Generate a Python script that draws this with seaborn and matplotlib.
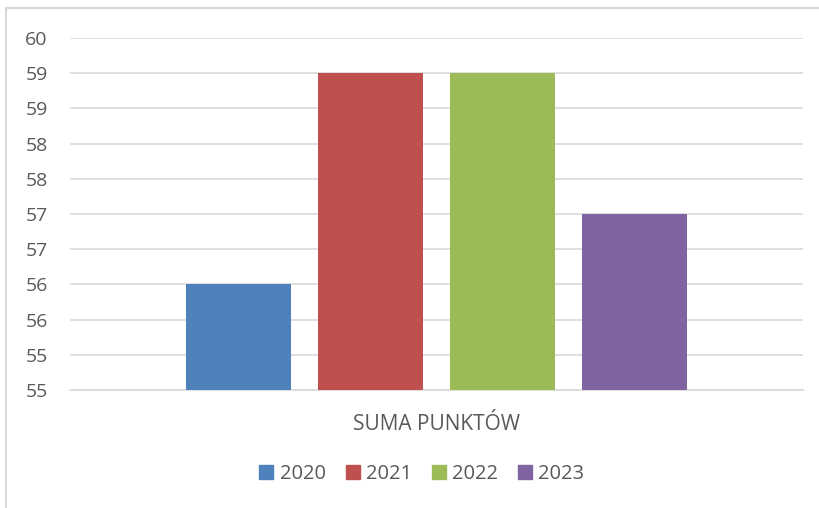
import math
import pandas as pd
import seaborn as sns
import matplotlib.pyplot as plt
from matplotlib.patches import Rectangle
from matplotlib.ticker import MultipleLocator, FuncFormatter

# data
category = ["SUMA PUNKTÓW"]
years = ["2020", "2021", "2022", "2023"]
values = [56, 59, 59, 57]
colors = ["#4F81BD", "#C0504D", "#9BBB59", "#8064A2"]

df = pd.DataFrame({"cat": category * len(years), "year": years, "value": values})

sns.set_style("white")
plt.rcParams["font.family"] = ["Open Sans", "DejaVu Sans"]
text_color = "#595959"
grid_color = "#D9D9D9"

fig = plt.figure(figsize=(8.19, 5.08), dpi=100)
ax = fig.add_axes([70 / 819, 1 - 390 / 508, 733 / 819, 352 / 508])

sns.barplot(data=df, x="cat", y="value", hue="year", palette=colors,
            width=0.72, gap=0.2, saturation=1, linewidth=0, legend=False, ax=ax, zorder=3)

ax.set_ylim(54.5, 59.5)
ax.set_xlim(-0.5, 0.5)
ax.yaxis.set_major_locator(MultipleLocator(0.5))
# excel style rounding of labels (half up)
ax.yaxis.set_major_formatter(FuncFormatter(lambda v, p: "%d" % math.floor(v + 0.5 + 1e-9)))
ax.grid(axis="y", color=grid_color, linewidth=1.2, zorder=0)
for s in ["top", "right", "left"]:
    ax.spines[s].set_visible(False)
ax.spines["bottom"].set_color(grid_color)
ax.spines["bottom"].set_linewidth(1.2)
ax.tick_params(axis="y", length=0, pad=16, labelsize=14, labelcolor=text_color)
ax.tick_params(axis="x", length=0, pad=17, labelsize=15, labelcolor=text_color)
ax.set_xlabel("")
ax.set_ylabel("")

handles = [Rectangle((0, 0), 1, 1, color=c) for c in colors]
fig.legend(handles, years, loc="center", bbox_to_anchor=(422 / 819, 1 - 474 / 508),
           ncol=4, frameon=False, fontsize=14.5, labelcolor=text_color,
           handlelength=0.7, handleheight=0.7, handletextpad=0.3, columnspacing=1.0)

# chart border (cropped at right/bottom)
fig.patches.append(Rectangle((6 / 819, -0.1), 1.2, 1 - 8 / 508 + 0.1, transform=fig.transFigure,
                             fill=False, edgecolor="#D9D9D9", linewidth=1.5))

fig.savefig("out.png", dpi=100)
